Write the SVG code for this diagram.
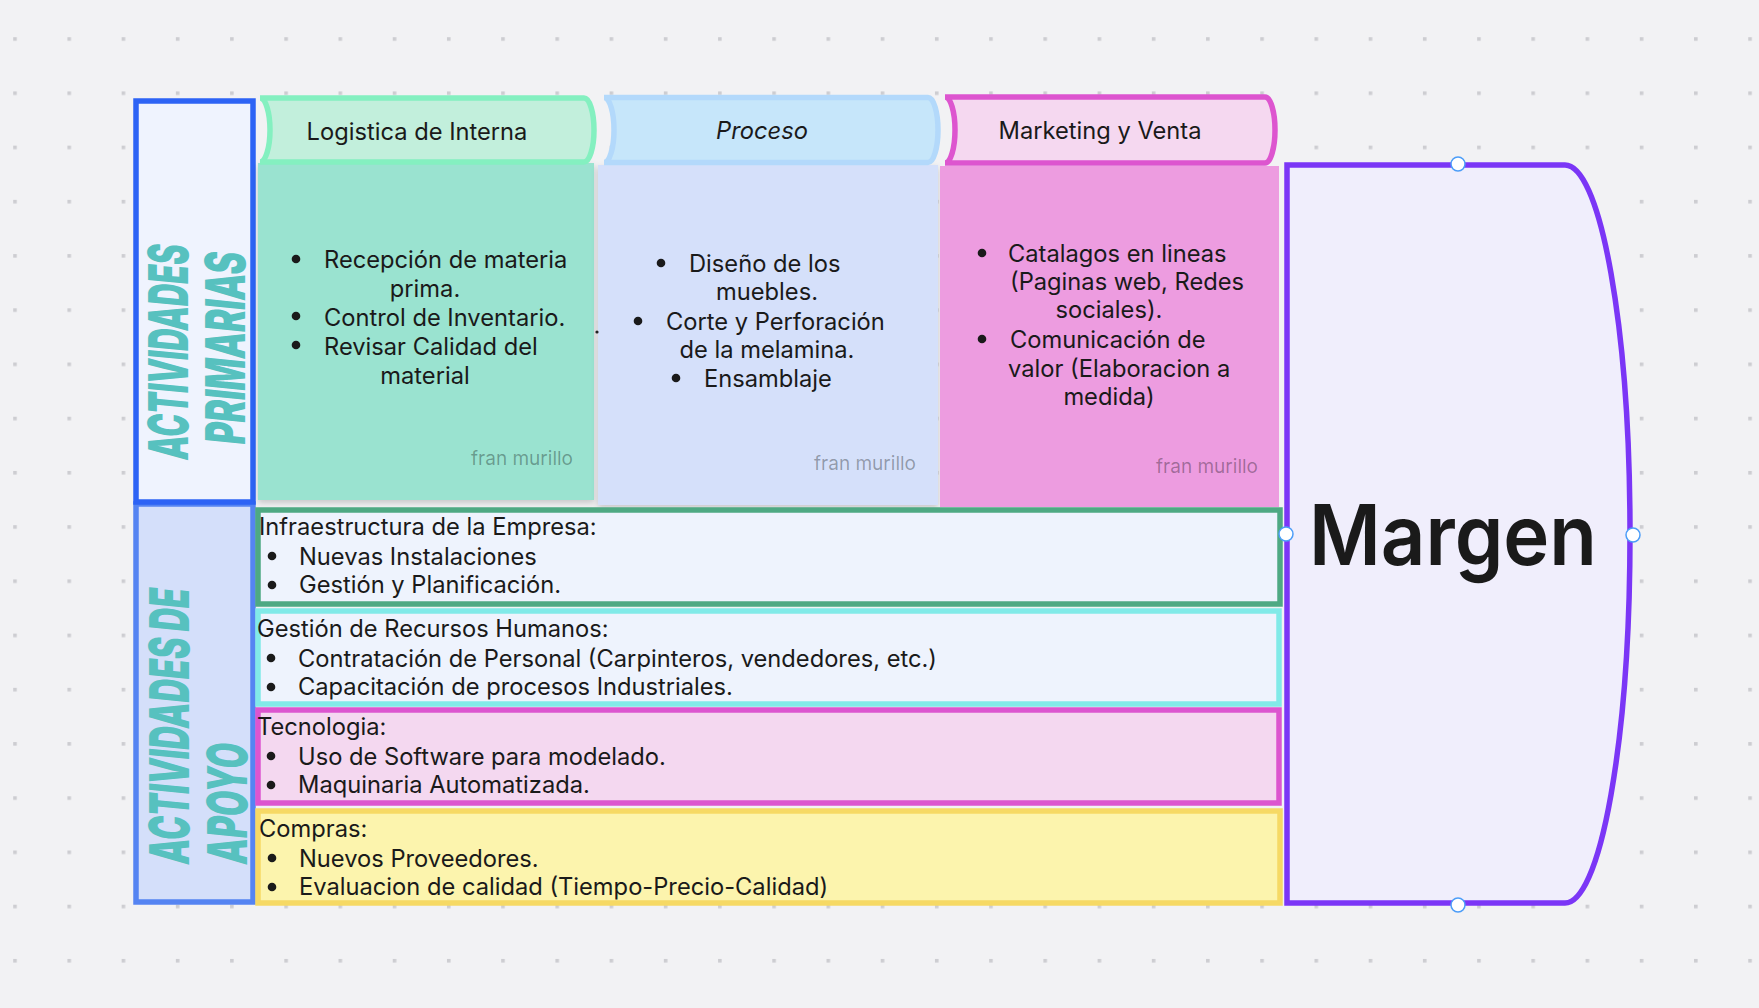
<svg xmlns="http://www.w3.org/2000/svg" width="1759" height="1008" viewBox="0 0 1759 1008">
<style>
.t{font-family:Inter,"Noto Sans","Liberation Sans",sans-serif;font-size:23.7px;fill:#1a1a1a}
.c{text-anchor:middle}
.e{text-anchor:end}
.sig{font-family:Inter,"Noto Sans",sans-serif;font-size:19px;fill:#000;fill-opacity:.33;text-anchor:end}
.lbl{font-family:Inter,"Liberation Sans",sans-serif;font-weight:900;font-style:italic;font-size:55px;fill:#57c1bf}
.b{fill:#1a1a1a}
.h{fill:#fff;stroke:#4c9df8;stroke-width:1.5}
.tab{stroke-width:5.5}
.row{stroke-width:5.5}
</style>
<defs>
<pattern id="grid" x="13.2" y="37.2" width="54.22" height="54.22" patternUnits="userSpaceOnUse"><rect width="3.6" height="3.6" fill="#cdcdd1"/></pattern>
<filter id="sh" x="-5%" y="-5%" width="110%" height="115%"><feDropShadow dx="0" dy="3" stdDeviation="3" flood-color="#000" flood-opacity="0.18"/></filter>
</defs>
<rect width="1759" height="1008" fill="#f2f2f4"/>
<rect width="1759" height="1008" fill="url(#grid)"/>

<g id="apoyo">
<rect x="136" y="504" width="117" height="398" fill="#d4dffa" stroke="#5584f2" stroke-width="5.5"/>
<text class="lbl" transform="translate(189,864) rotate(-90)" textLength="276" lengthAdjust="spacingAndGlyphs">ACTIVIDADES DE</text>
<text class="lbl" transform="translate(247,864) rotate(-90)" textLength="121" lengthAdjust="spacingAndGlyphs">APOYO</text>
</g>

<g id="primarias">
<rect x="136" y="101" width="117" height="401" fill="#eff3fe" stroke="#2d63f5" stroke-width="5.5"/>
<text class="lbl" text-anchor="middle" transform="translate(188,352) rotate(-90)" textLength="215" lengthAdjust="spacingAndGlyphs">ACTIVIDADES</text>
<text class="lbl" text-anchor="middle" transform="translate(245,348) rotate(-90)" textLength="192" lengthAdjust="spacingAndGlyphs">PRIMARIAS</text>
</g>

<g id="logistica">
<rect x="258" y="163" width="336" height="337" fill="#9ae3d0" filter="url(#sh)"/>
<path class="tab" d="M260,98 H584 A10,32 0 0 1 584,162 H260 A10,32 0 0 0 260,98 Z" fill="#c2efdc" stroke="#84f0c0"/>
<text class="t c" x="417" y="140">Logistica de Interna</text>
<circle class="b" cx="296" cy="259" r="4.3"/>
<text class="t" x="324" y="268">Recepción de materia</text>
<text class="t c" x="425" y="297">prima.</text>
<circle class="b" cx="296" cy="316" r="4.3"/>
<text class="t" x="324" y="326">Control de Inventario.</text>
<circle class="b" cx="296" cy="345" r="4.3"/>
<text class="t" x="324" y="355">Revisar Calidad del</text>
<text class="t c" x="425" y="384">material</text>
<text class="sig" x="573" y="465">fran murillo</text>
</g>

<g id="proceso">
<rect x="598" y="165" width="340" height="340" fill="#d5e0fa" filter="url(#sh)"/>
<path class="tab" d="M604,97.5 H928 A10,32.5 0 0 1 928,162.5 H604 A10,32.5 0 0 0 604,97.5 Z" fill="#c6e6fa" stroke="#b3d9fb"/>
<text class="t c" x="762" y="139" font-style="italic">Proceso</text>
<circle class="b" cx="661" cy="263" r="4.3"/>
<text class="t" x="689" y="272">Diseño de los</text>
<text class="t c" x="767" y="300">muebles.</text>
<circle class="b" cx="638" cy="321" r="4.3"/>
<text class="t" x="666" y="330">Corte y Perforación</text>
<text class="t c" x="767" y="358">de la melamina.</text>
<circle class="b" cx="676" cy="378" r="4.3"/>
<text class="t" x="704" y="387">Ensamblaje</text>
<text class="sig" x="916" y="470">fran murillo</text>
</g>

<g id="marketing">
<rect x="940" y="166" width="339" height="341" fill="#ed9ce0"/>
<path class="tab" d="M945,97 H1265 A10,33 0 0 1 1265,163 H945 A10,33 0 0 0 945,97 Z" fill="#f5d8f0" stroke="#dd55cf"/>
<text class="t c" x="1100" y="139">Marketing y Venta</text>
<circle class="b" cx="982" cy="253" r="4.3"/>
<text class="t" x="1008" y="262">Catalagos en lineas</text>
<text class="t" x="1010" y="290">(Paginas web, Redes</text>
<text class="t c" x="1109" y="318">sociales).</text>
<circle class="b" cx="982" cy="339" r="4.3"/>
<text class="t" x="1010" y="348">Comunicación de</text>
<text class="t" x="1008" y="377">valor (Elaboracion a</text>
<text class="t c" x="1109" y="405">medida)</text>
<text class="sig" x="1258" y="473">fran murillo</text>
</g>

<g id="infraestructura">
<rect class="row" x="258" y="510" width="1022" height="94" fill="#eef3fd" stroke="#4ea983"/>
<text class="t" x="259" y="535">Infraestructura de la Empresa:</text>
<circle class="b" cx="272" cy="556" r="4.3"/>
<text class="t" x="299" y="565">Nuevas Instalaciones</text>
<circle class="b" cx="272" cy="585" r="4.3"/>
<text class="t" x="299" y="593">Gestión y Planificación.</text>
</g>

<g id="rrhh">
<rect class="row" x="258" y="611" width="1021" height="93" fill="#eef3fd" stroke="#81eae8"/>
<text class="t" x="257" y="637">Gestión de Recursos Humanos:</text>
<circle class="b" cx="271" cy="658" r="4.3"/>
<text class="t" x="298" y="667">Contratación de Personal (Carpinteros, vendedores, etc.)</text>
<circle class="b" cx="271" cy="687" r="4.3"/>
<text class="t" x="298" y="695">Capacitación de procesos Industriales.</text>
</g>

<g id="tecnologia">
<rect class="row" x="258" y="710" width="1021" height="93" fill="#f4d8f0" stroke="#dc55cf"/>
<text class="t" x="257" y="735">Tecnologia:</text>
<circle class="b" cx="271" cy="756" r="4.3"/>
<text class="t" x="298" y="765">Uso de Software para modelado.</text>
<circle class="b" cx="271" cy="785" r="4.3"/>
<text class="t" x="298" y="793">Maquinaria Automatizada.</text>
</g>

<g id="compras">
<rect class="row" x="258" y="811" width="1022" height="92" fill="#fcf4ad" stroke="#f6d964"/>
<text class="t" x="259" y="837">Compras:</text>
<circle class="b" cx="272" cy="858" r="4.3"/>
<text class="t" x="299" y="867">Nuevos Proveedores.</text>
<circle class="b" cx="272" cy="887" r="4.3"/>
<text class="t" x="299" y="895">Evaluacion de calidad (Tiempo-Precio-Calidad)</text>
</g>

<g id="margen">
<path d="M1287,165 H1565 A65,369 0 0 1 1565,903 H1287 Z" fill="#f0eefc" stroke="#7b36f6" stroke-width="5.5"/>
<text x="1453" y="565" text-anchor="middle" font-family="Inter, 'Noto Sans', sans-serif" font-weight="600" font-size="84" fill="#1a1a1a" textLength="288" lengthAdjust="spacingAndGlyphs">Margen</text>
<circle class="h" cx="1458" cy="164" r="7"/>
<circle class="h" cx="1633" cy="535" r="7"/>
<circle class="h" cx="1458" cy="905" r="7"/>
<circle class="h" cx="1286" cy="534" r="7"/>
</g>

<g id="connectors">
<circle cx="597" cy="332" r="1.6" fill="#222"/>
</g>
</svg>
